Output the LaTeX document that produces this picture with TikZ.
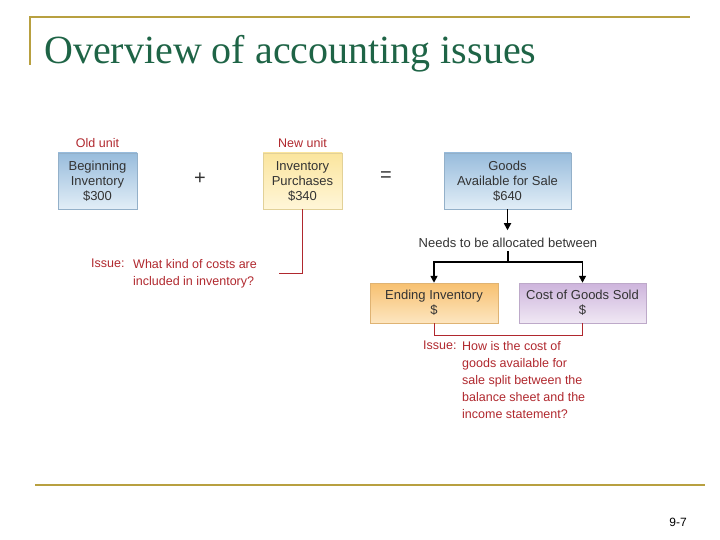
\documentclass[tikz,border=0pt]{standalone}
\usepackage{fontspec}
\setmainfont{Liberation Sans}
\newfontfamily\titlefont{Liberation Serif}
\usetikzlibrary{arrows.meta}
\definecolor{olive}{HTML}{B8A040}
\definecolor{tgreen}{HTML}{1E6446}
\definecolor{issred}{HTML}{B0282E}
\definecolor{bluetop}{HTML}{98BCDC}
\definecolor{bluebot}{HTML}{E2EEF7}
\definecolor{yeltop}{HTML}{FBE59E}
\definecolor{yelbot}{HTML}{FFF6D8}
\definecolor{orgtop}{HTML}{F7C070}
\definecolor{orgbot}{HTML}{FDE6C0}
\definecolor{purtop}{HTML}{CDB4DC}
\definecolor{purbot}{HTML}{F0E8F4}
\tikzset{
 box/.style={draw=#1, line width=0.5pt, minimum height=56pt, align=center, font=\fontsize{13}{15}\selectfont, inner sep=1pt, text=black!80},
 lbl/.style={text=issred, font=\fontsize{12.5}{17}\selectfont},
 blk/.style={line width=1.6pt, -{Triangle[length=7pt,width=7pt]}},
 red/.style={draw=issred, line width=0.8pt}
}
\begin{document}
\begin{tikzpicture}[x=1pt,y=-1pt]
\useasboundingbox (0,0) rectangle (720,540);
\draw[olive, line width=1.5pt] (30,65) -- (30,17) -- (690,17);
\draw[olive, line width=1.5pt] (35,485) -- (705,485);
\node[anchor=base west, text=tgreen, font=\titlefont\fontsize{40}{42}\selectfont, inner sep=0pt] (title) at (44,64) {Overview of accounting issues};
\node (pg) at (678,522) {\fontsize{12}{13}\selectfont 9-7};

\node[box=bluetop!80!gray, top color=bluetop, bottom color=bluebot, minimum width=79pt] (beg) at (97.5,181) {Beginning\\Inventory\\\$300};
\node[box=yeltop!80!gray, top color=yeltop, bottom color=yelbot, minimum width=79pt] (pur) at (302.5,181) {Inventory\\Purchases\\\$340};
\node[box=bluetop!80!gray, top color=bluetop, bottom color=bluebot, minimum width=127pt] (gas) at (507.5,181) {Goods\\Available for Sale\\\$640};
\node[lbl] (old) at (97.5,143) {Old unit};
\node[lbl] (new) at (302.5,143) {New unit};
\node[font=\fontsize{20}{20}\selectfont, text=black!80] (plus) at (200,179) {+};
\node[font=\fontsize{20}{20}\selectfont, text=black!80] (eq) at (386,177) {=};

\node[font=\fontsize{13}{14}\selectfont, text=black!80] (need) at (508,243) {Needs to be allocated between};
\node[box=orgtop!80!gray, top color=orgtop, bottom color=orgbot, minimum width=128pt, minimum height=40pt] (end) at (434,303) {Ending Inventory\\\$};
\node[box=purtop!80!gray, top color=purtop, bottom color=purbot, minimum width=127pt, minimum height=40pt] (cgs) at (582.5,303) {Cost of Goods Sold\\\$};

\draw[blk] (gas.south) -- ++(0,21);
\coordinate (split) at (508,262);
\draw[line width=1.6pt] (need.south) -- (split);
\draw[blk] (split) -| (end.north);
\draw[blk] (split) -| (cgs.north);

\node[lbl, anchor=north west, inner sep=0pt] (iss1) at (91,259) {Issue:};
\node[lbl, anchor=north west, align=left, inner sep=0pt] (iss1t) at (133,259.5) {What kind of costs are\\included in inventory?};
\draw[red] (pur.south) |- (279,273);

\node[lbl, anchor=north west, inner sep=0pt] (iss2) at (423,341) {Issue:};
\node[lbl, anchor=north west, align=left, inner sep=0pt] (iss2t) at (462,341) {How is the cost of\\goods available for\\sale split between the\\balance sheet and the\\income statement?};
\draw[red] (end.south) -- ++(0,12) -| (cgs.south);
\end{tikzpicture}
\end{document}
